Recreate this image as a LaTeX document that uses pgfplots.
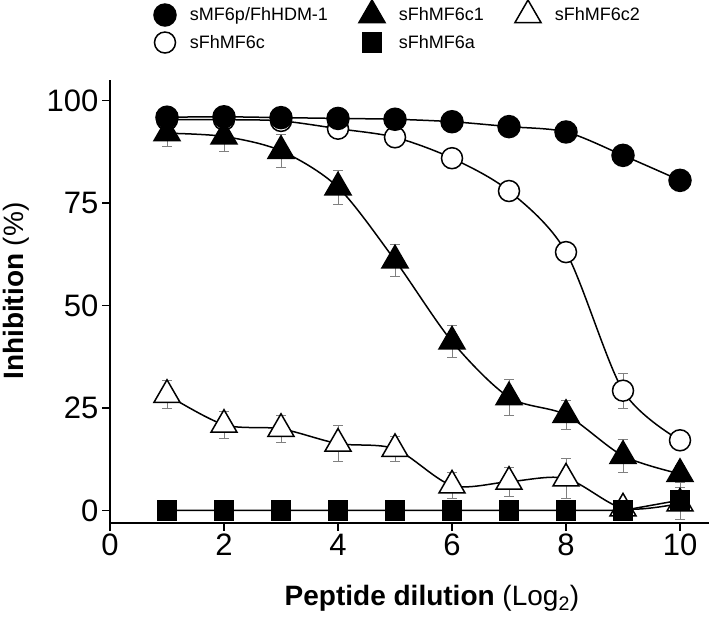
\documentclass[border=0pt]{standalone}
\usepackage{fontspec}
\setmainfont{Liberation Sans}
\usepackage{pgfplots}
\pgfplotsset{compat=1.18}
\usepackage{pgfplotstable}

% x y err
\pgfplotstableread{
x y e
1 95.9 1
2 96.0 1
3 95.8 1
4 95.6 1
5 95.4 1
6 94.8 1
7 93.6 1
8 92.3 1
9 86.6 1
10 80.5 1
}\tabMF
\pgfplotstableread{
x y e
1 95.3 1
2 95.3 1
3 95.0 1
4 93.1 1.5
5 91.0 1.5
6 85.9 1.5
7 77.9 1.5
8 63.0 1.5
9 29.2 4.2
10 17.1 2.3
}\tabC
\pgfplotstableread{
x y e
1 92.0 3.3
2 91.2 3.7
3 87.7 4.0
4 78.8 4.2
5 61.0 4.0
6 41.2 4.0
7 27.6 4.4
8 23.3 3.6
9 13.3 4.0
10 8.9 2.0
}\tabCi
\pgfplotstableread{
x y e
1 28.2 3.4
2 20.9 3.3
3 19.9 3.2
4 16.3 4.4
5 15.0 3.1
6 6.1 3.2
7 7.0 3.5
8 7.8 4.8
9 0.5 2.0
10 1.7 3.9
}\tabCii
\pgfplotstableread{
x y e
1 0 0
2 0 0
3 0 0
4 0 0
5 0 0
6 0 0
7 0 0
8 0 0
9 0 0
10 2.5 4.7
}\tabA

\begin{document}
\begin{tikzpicture}
\path[use as bounding box] (0,0) rectangle (709pt,619pt);
\begin{axis}[
  at={(110pt,96.3pt)}, anchor=south west,
  width=598.5pt, height=442.8pt, scale only axis,
  xmin=0, xmax=10.5, ymin=-3, ymax=105,
  axis x line*=bottom, axis y line*=left,
  axis line style={line width=2pt},
  xtick={0,2,4,6,8,10}, ytick={0,25,50,75,100},
  tick align=outside, major tick length=8pt,
  tick style={line width=1.5pt, black},
  ticklabel style={font=\fontsize{31}{31}\selectfont},
  /pgf/number format/assume math mode=true,
  clip=false,
  xlabel={\textbf{Peptide dilution} (Log\textsubscript{2})},
  ylabel={\textbf{Inhibition} (\%)},
  label style={font=\fontsize{28}{28}\selectfont},
  x label style={at={(axis description cs:0.538,-0.186)}, anchor=base},
  y label style={at={(axis description cs:-0.144,0.523)}, anchor=base, rotate=0},
  legend columns=3,
  legend cell align=left,
  legend style={at={(axis description cs:0.0735,1.1804)}, anchor=north west,
    draw=none, fill=none, inner sep=0pt, outer sep=0pt,
    font=\fontsize{18}{18}\selectfont,
    nodes={inner sep=0pt},
    /tikz/every odd column/.append style={column sep=14pt},
    /tikz/every even column/.append style={column sep=31pt},
    row sep=6pt},
  error bars/y dir=both, error bars/y explicit,
  error bars/error bar style={gray, line width=0.8pt},
  error bars/error mark options={gray, rotate=90, mark size=5pt, line width=0.8pt},
  every axis plot/.append style={line width=1.5pt, black},
]
\addlegendimage{only marks, mark=*, mark size=11pt, black, fill=black}
\addlegendentry{sMF6p/FhHDM-1}
\addlegendimage{only marks, mark=triangle*, mark size=15pt, black, fill=black}
\addlegendentry{sFhMF6c1}
\addlegendimage{only marks, mark=triangle*, mark size=15pt, black, fill=white}
\addlegendentry{sFhMF6c2}
\addlegendimage{only marks, mark=*, mark size=10.5pt, black, fill=white}
\addlegendentry{sFhMF6c}
\addlegendimage{only marks, mark=square*, mark size=9.5pt, black, fill=black}
\addlegendentry{sFhMF6a}

\addplot[forget plot, smooth, mark=triangle*, mark size=15pt, mark options={fill=white, solid}]
  table[x=x, y=y, y error=e] {\tabCii};
\addplot[forget plot, smooth, mark=*, mark size=10.5pt, mark options={fill=white, solid}]
  table[x=x, y=y, y error=e] {\tabC};
\addplot[forget plot, smooth, mark=triangle*, mark size=15pt, mark options={fill=black, solid}]
  table[x=x, y=y, y error=e] {\tabCi};
\addplot[forget plot, mark=square*, mark size=9.5pt, mark options={fill=black, solid}]
  table[x=x, y=y, y error=e] {\tabA};
\addplot[forget plot, smooth, mark=*, mark size=11pt, mark options={fill=black, solid}]
  table[x=x, y=y, y error=e] {\tabMF};
\end{axis}
\end{tikzpicture}
\end{document}
